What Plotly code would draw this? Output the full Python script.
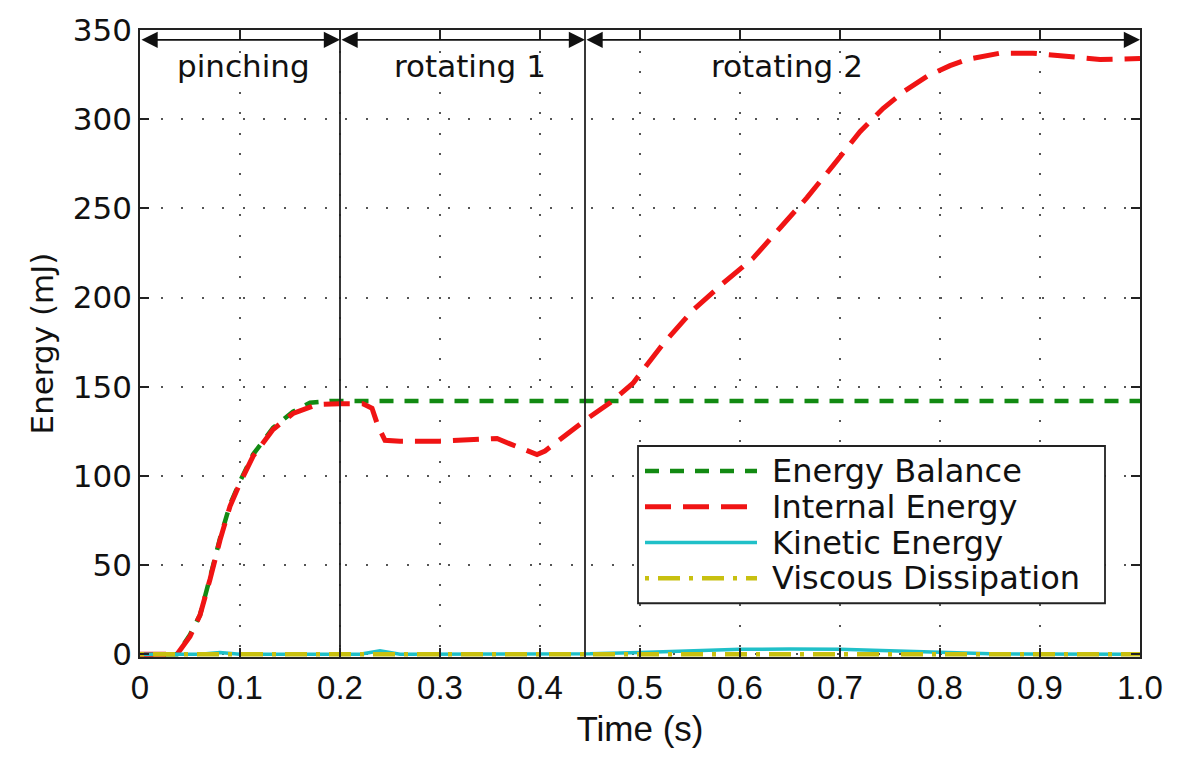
import plotly.graph_objects as go

# ---------------- data ----------------
t_balance = [0, 0.037, 0.05, 0.06, 0.07, 0.08, 0.09, 0.10, 0.113, 0.133, 0.153, 0.17, 0.19, 0.20, 1.0]
e_balance = [0, 0, 11, 22, 43, 65, 84, 97, 112, 127, 136, 141, 142, 142, 142]

t_internal = [0, 0.037, 0.05, 0.06, 0.07, 0.08, 0.09, 0.10, 0.113, 0.133, 0.153, 0.177, 0.20, 0.223,
              0.232, 0.238, 0.245, 0.26, 0.30, 0.357, 0.37, 0.38, 0.39, 0.397, 0.405, 0.423, 0.447,
              0.47, 0.493, 0.523, 0.553, 0.583, 0.613, 0.64, 0.667, 0.693, 0.72, 0.743, 0.765,
              0.787, 0.81, 0.827, 0.86, 0.893, 0.927, 0.96, 1.0]
e_internal = [0, 0, 10, 22, 42, 64, 83, 96, 111, 126, 135, 140, 140.5, 140.5,
              138, 128, 120, 119.5, 119.5, 121, 118, 115.5, 113, 112, 114, 122, 132,
              141, 152, 174, 193, 208, 222, 239, 256, 274, 293, 306, 316,
              324, 330, 333.5, 337, 337, 335, 333.5, 334]

t_kinetic = [0, 0.06, 0.08, 0.10, 0.22, 0.24, 0.26, 0.45, 0.50, 0.55, 0.60, 0.65, 0.70, 0.75, 0.80, 0.85, 1.0]
e_kinetic = [0, 0, 1, 0, 0, 2, 0, 0.3, 1, 2, 2.8, 3, 2.8, 2, 1, 0.3, 0]

t_viscous = [0, 0.25, 0.5, 0.75, 1.0]
e_viscous = [0, 0, 0, 0, 0]

series_names = ["Energy Balance", "Internal Energy", "Kinetic Energy", "Viscous Dissipation"]

phase_names = ["pinching", "rotating 1", "rotating 2"]
phase_bounds = [0.0, 0.2, 0.445, 1.0]
phase_label_x = [0.103, 0.33, 0.647]

x_tickvals = [0, 0.1, 0.2, 0.3, 0.4, 0.5, 0.6, 0.7, 0.8, 0.9, 1.0]
x_ticktext = ["0", "0.1", "0.2", "0.3", "0.4", "0.5", "0.6", "0.7", "0.8", "0.9", "1.0"]
y_tickvals = [0, 50, 100, 150, 200, 250, 300, 350]

WIDE = "DejaVu Sans, Verdana, sans-serif"
NARROW = "Liberation Sans, Arial, sans-serif"
INK = "#111111"

fig = go.Figure()
fig.add_trace(go.Scatter(x=t_balance, y=e_balance, mode="lines", name=series_names[0],
                         line=dict(color="#128a12", width=4.5, dash="14px,11px")))
fig.add_trace(go.Scatter(x=t_internal, y=e_internal, mode="lines", name=series_names[1],
                         line=dict(color="#f01414", width=5, dash="26px,12px")))
fig.add_trace(go.Scatter(x=t_kinetic, y=e_kinetic, mode="lines", name=series_names[2],
                         line=dict(color="#20c0c8", width=3.5)))
fig.add_trace(go.Scatter(x=t_viscous, y=e_viscous, mode="lines", name=series_names[3],
                         line=dict(color="#c8c010", width=4.5, dash="4px,9px,22px,9px")))
fig.update_traces(showlegend=False)

# phase boundaries (vertical lines)
for b in phase_bounds[1:-1]:
    fig.add_shape(type="line", xref="x", yref="paper", x0=b, x1=b, y0=0, y1=1,
                  line=dict(color="#222222", width=1.8))

# double arrows and phase labels
for i, name in enumerate(phase_names):
    x0, x1 = phase_bounds[i], phase_bounds[i + 1]
    fig.add_annotation(x=x1, y=344.5, ax=x0, ay=344.5, xref="x", yref="y", axref="x", ayref="y",
                       text="", showarrow=True, arrowhead=2, startarrowhead=2, arrowside="end+start",
                       arrowsize=1.8, startarrowsize=1.8, arrowwidth=1.8, arrowcolor=INK,
                       standoff=0, startstandoff=0)
    fig.add_annotation(x=phase_label_x[i], y=330, xref="x", yref="y", text=name, showarrow=False,
                       font=dict(family=WIDE, size=31, color=INK))

# legend box (MATLAB-style, compact rows) built from the traces themselves
leg_x0, leg_x1, leg_y0, leg_y1 = 0.498, 0.965, 0.0857, 0.3365
fig.add_shape(type="rect", xref="paper", yref="paper", x0=leg_x0, x1=leg_x1, y0=leg_y0, y1=leg_y1,
              line=dict(color="#222222", width=1.8), fillcolor="white", layer="above")
row_step = (leg_y1 - leg_y0) / 4.4
for k, tr in enumerate(fig.data):
    yk = leg_y1 - row_step * (0.7 + k)
    fig.add_shape(type="line", xref="paper", yref="paper", x0=0.505, x1=0.617, y0=yk, y1=yk,
                  line=dict(color=tr.line.color, width=tr.line.width, dash=tr.line.dash or "solid"),
                  layer="above")
    fig.add_annotation(x=0.630, y=yk, xref="paper", yref="paper", text=tr.name, showarrow=False,
                       xanchor="left", yanchor="middle", font=dict(family=WIDE, size=32, color=INK))

axis_common = dict(showline=True, linecolor="#222222", linewidth=1.8, mirror="ticks",
                   ticks="inside", ticklen=9, tickwidth=2, tickcolor="#222222",
                   showgrid=True, gridcolor="#555555", gridwidth=2, griddash="2px,18.5px",
                   zeroline=False)

fig.update_xaxes(range=[0, 1.0], tickvals=x_tickvals, ticktext=x_ticktext,
                 tickfont=dict(family=NARROW, size=33, color=INK),
                 title=dict(text="Time (s)", font=dict(family=NARROW, size=35, color=INK), standoff=12),
                 **axis_common)
fig.update_yaxes(range=[-1.5, 350], tickvals=y_tickvals,
                 tickfont=dict(family=WIDE, size=31, color=INK),
                 title=dict(text="Energy (mJ)", font=dict(family=WIDE, size=31, color=INK), standoff=10),
                 **axis_common)

fig.update_layout(
    width=1180, height=762,
    margin=dict(l=140, r=40, t=27, b=105),
    plot_bgcolor="white", paper_bgcolor="white",
    showlegend=False,
)

fig.write_html("out.html")
